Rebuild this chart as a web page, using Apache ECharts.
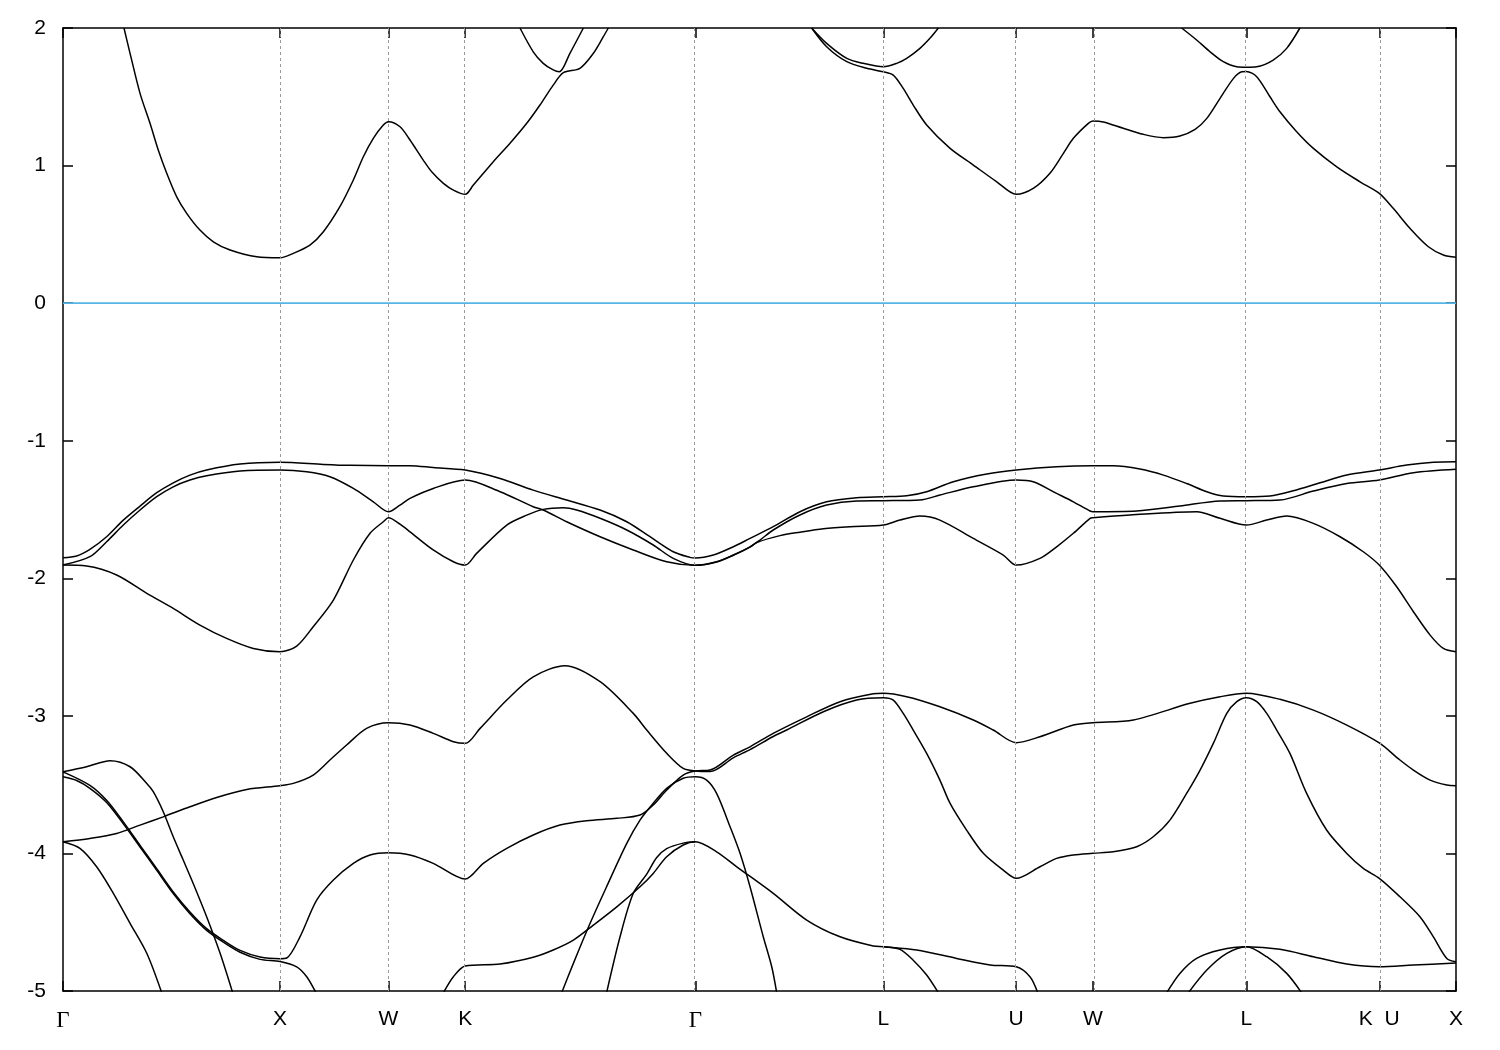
<!DOCTYPE html>
<html><head><meta charset="utf-8">
<script src="https://cdn.jsdelivr.net/npm/echarts@6/dist/echarts.min.js"></script>
<style>html,body{margin:0;padding:0;background:#fff}#c{width:1500px;height:1050px}</style>
</head><body><div id="c"></div>
<script>
// High-symmetry points along the k-path (units of 2π/a)
const symLabels = ['Γ','X','W','K','Γ','L','U','W','L','K  U','X'];
const symPos = [0, 1, 1.5, 1.8536, 2.9142, 3.7802, 4.3926, 4.7462, 5.4533, 6.0657, 6.4193];
const yTicks = [-5, -4, -3, -2, -1, 0, 1, 2];

// Conduction bands [k, E(eV)]
const cbLow1 = [[0.281,2.0],[0.309,1.816],[0.355,1.525],[0.401,1.307],[0.439,1.113],[0.478,0.944],[0.524,0.773],[0.570,0.653],[0.631,0.531],[0.693,0.446],[0.770,0.386],[0.893,0.337],[1.0,0.330],[1.061,0.362],[1.138,0.422],[1.200,0.519],[1.276,0.701],[1.338,0.895],[1.384,1.064],[1.430,1.198],[1.476,1.295],[1.5,1.319],[1.553,1.282],[1.599,1.186],[1.660,1.040],[1.699,0.955],[1.753,0.871],[1.799,0.822],[1.8536,0.791],[1.891,0.858],[1.983,1.028],[2.060,1.162],[2.137,1.307],[2.198,1.440],[2.259,1.585],[2.306,1.675],[2.382,1.707],[2.444,1.816],[2.490,1.937],[2.513,2.0]];
const cbUpK = [[2.106,2.0],[2.167,1.827],[2.213,1.743],[2.259,1.695],[2.287,1.682],[2.336,1.816],[2.398,2.0]];
const cbUpL1 = [[3.450,2.0],[3.519,1.888],[3.612,1.779],[3.688,1.743],[3.780,1.718],[3.842,1.743],[3.888,1.779],[3.949,1.852],[3.995,1.925],[4.034,2.0]];
const cbLow2 = [[3.450,2.0],[3.519,1.864],[3.612,1.755],[3.704,1.707],[3.780,1.682],[3.826,1.658],[3.872,1.561],[3.918,1.440],[3.980,1.295],[4.088,1.125],[4.195,1.004],[4.303,0.882],[4.3926,0.791],[4.471,0.834],[4.548,0.944],[4.610,1.089],[4.656,1.198],[4.725,1.307],[4.7462,1.324],[4.794,1.317],[4.886,1.271],[4.978,1.227],[5.071,1.203],[5.147,1.215],[5.217,1.263],[5.271,1.343],[5.332,1.489],[5.394,1.634],[5.432,1.682],[5.4533,1.684],[5.501,1.646],[5.562,1.500],[5.608,1.391],[5.685,1.246],[5.762,1.125],[5.870,0.991],[5.977,0.882],[6.0657,0.798],[6.130,0.689],[6.207,0.544],[6.292,0.410],[6.361,0.350],[6.4193,0.333]];
const cbUpL2 = [[5.155,2.0],[5.224,1.913],[5.286,1.827],[5.347,1.755],[5.409,1.718],[5.4533,1.715],[5.501,1.718],[5.577,1.767],[5.639,1.852],[5.700,2.0]];

// Valence bands [k, E(eV)]
const vb1 = [[0,-1.851],[0.063,-1.838],[0.124,-1.790],[0.201,-1.698],[0.278,-1.577],[0.355,-1.475],[0.432,-1.378],[0.508,-1.306],[0.585,-1.250],[0.662,-1.213],[0.816,-1.170],[1.0,-1.157],[1.200,-1.172],[1.323,-1.179],[1.5,-1.182],[1.599,-1.182],[1.706,-1.195],[1.8536,-1.213],[2.014,-1.274],[2.167,-1.359],[2.321,-1.431],[2.475,-1.504],[2.598,-1.589],[2.705,-1.698],[2.812,-1.807],[2.889,-1.848],[2.9142,-1.853],[2.997,-1.831],[3.089,-1.771],[3.166,-1.710],[3.273,-1.625],[3.396,-1.516],[3.519,-1.444],[3.657,-1.414],[3.780,-1.407],[3.888,-1.400],[3.980,-1.371],[4.103,-1.298],[4.257,-1.242],[4.3926,-1.213],[4.579,-1.189],[4.7462,-1.182],[4.840,-1.182],[4.963,-1.206],[5.071,-1.250],[5.178,-1.311],[5.271,-1.371],[5.347,-1.402],[5.4533,-1.407],[5.562,-1.402],[5.670,-1.364],[5.793,-1.306],[5.916,-1.250],[6.0657,-1.213],[6.192,-1.177],[6.315,-1.157],[6.4193,-1.153]];
const vb2 = [[0,-1.904],[0.124,-1.843],[0.201,-1.734],[0.278,-1.613],[0.355,-1.504],[0.432,-1.407],[0.508,-1.335],[0.585,-1.286],[0.662,-1.255],[0.816,-1.221],[1.0,-1.213],[1.123,-1.226],[1.230,-1.262],[1.338,-1.347],[1.430,-1.444],[1.5,-1.516],[1.553,-1.468],[1.599,-1.419],[1.706,-1.347],[1.8536,-1.286],[2.014,-1.371],[2.167,-1.480],[2.213,-1.504],[2.321,-1.589],[2.475,-1.698],[2.628,-1.794],[2.782,-1.880],[2.9142,-1.906],[3.012,-1.880],[3.089,-1.831],[3.166,-1.771],[3.212,-1.722],[3.273,-1.649],[3.396,-1.540],[3.519,-1.468],[3.657,-1.438],[3.780,-1.436],[3.949,-1.431],[4.041,-1.395],[4.195,-1.335],[4.3926,-1.286],[4.471,-1.298],[4.579,-1.383],[4.656,-1.444],[4.733,-1.511],[4.7462,-1.516],[4.948,-1.511],[5.147,-1.475],[5.332,-1.438],[5.4533,-1.436],[5.608,-1.431],[5.762,-1.366],[5.916,-1.311],[6.0657,-1.286],[6.223,-1.233],[6.4193,-1.208]];
const vb3 = [[0,-1.904],[0.109,-1.911],[0.247,-1.976],[0.386,-2.109],[0.508,-2.219],[0.631,-2.340],[0.754,-2.437],[0.877,-2.510],[1.0,-2.534],[1.077,-2.493],[1.153,-2.352],[1.246,-2.158],[1.338,-1.867],[1.415,-1.673],[1.476,-1.589],[1.5,-1.560],[1.553,-1.607],[1.599,-1.662],[1.706,-1.794],[1.799,-1.880],[1.8536,-1.904],[1.906,-1.819],[2.045,-1.613],[2.137,-1.541],[2.213,-1.499],[2.306,-1.487],[2.367,-1.504],[2.475,-1.564],[2.598,-1.649],[2.720,-1.758],[2.812,-1.855],[2.9142,-1.906],[3.012,-1.882],[3.089,-1.833],[3.166,-1.773],[3.197,-1.740],[3.304,-1.690],[3.396,-1.665],[3.504,-1.640],[3.627,-1.625],[3.780,-1.613],[3.857,-1.577],[3.949,-1.548],[4.041,-1.577],[4.195,-1.710],[4.333,-1.831],[4.3926,-1.904],[4.502,-1.855],[4.579,-1.771],[4.656,-1.673],[4.733,-1.564],[4.7462,-1.560],[4.917,-1.540],[5.224,-1.516],[5.332,-1.564],[5.4533,-1.613],[5.547,-1.577],[5.639,-1.548],[5.762,-1.601],[5.885,-1.698],[5.992,-1.807],[6.0657,-1.904],[6.146,-2.062],[6.223,-2.243],[6.300,-2.413],[6.361,-2.510],[6.4193,-2.534]];
const vb4 = [[0,-3.407],[0.109,-3.370],[0.217,-3.326],[0.309,-3.370],[0.386,-3.491],[0.416,-3.551],[0.462,-3.697],[0.508,-3.879],[0.554,-4.048],[0.600,-4.218],[0.662,-4.460],[0.724,-4.726],[0.782,-5.013]];
const vb5 = [[0,-3.407],[0.124,-3.505],[0.201,-3.614],[0.278,-3.771],[0.355,-3.941],[0.432,-4.111],[0.508,-4.280],[0.585,-4.426],[0.662,-4.547],[0.739,-4.632],[0.816,-4.705],[0.908,-4.753],[1.0,-4.765],[1.031,-4.760],[1.092,-4.606],[1.169,-4.339],[1.246,-4.193],[1.338,-4.072],[1.415,-4.011],[1.5,-3.995],[1.599,-4.011],[1.706,-4.072],[1.8536,-4.186],[1.937,-4.072],[2.045,-3.963],[2.167,-3.866],[2.290,-3.794],[2.413,-3.762],[2.552,-3.745],[2.659,-3.721],[2.720,-3.648],[2.782,-3.539],[2.858,-3.430],[2.9142,-3.401],[2.982,-3.394],[3.089,-3.285],[3.166,-3.225],[3.273,-3.127],[3.427,-3.007],[3.581,-2.897],[3.734,-2.840],[3.780,-2.836],[3.888,-2.861],[4.041,-2.934],[4.195,-3.030],[4.287,-3.103],[4.3926,-3.195],[4.502,-3.152],[4.656,-3.067],[4.7462,-3.050],[4.933,-3.030],[5.194,-2.909],[5.332,-2.861],[5.4533,-2.836],[5.608,-2.880],[5.762,-2.958],[5.916,-3.067],[6.0657,-3.197],[6.161,-3.321],[6.223,-3.394],[6.300,-3.467],[6.377,-3.503],[6.4193,-3.508]];
const vb6 = [[0,-3.443],[0.063,-3.470],[0.124,-3.527],[0.201,-3.630],[0.278,-3.785],[0.355,-3.953],[0.432,-4.123],[0.508,-4.292],[0.585,-4.438],[0.662,-4.559],[0.739,-4.645],[0.816,-4.718],[0.908,-4.770],[1.0,-4.785],[1.077,-4.824],[1.123,-4.896],[1.166,-5.013]];
const vb7 = [[0,-3.915],[0.124,-3.891],[0.247,-3.855],[0.355,-3.794],[0.462,-3.734],[0.585,-3.661],[0.708,-3.593],[0.847,-3.535],[1.0,-3.508],[1.061,-3.491],[1.153,-3.430],[1.230,-3.321],[1.307,-3.212],[1.399,-3.091],[1.5,-3.050],[1.599,-3.067],[1.706,-3.127],[1.799,-3.188],[1.8536,-3.200],[1.922,-3.091],[2.045,-2.885],[2.167,-2.716],[2.313,-2.636],[2.475,-2.752],[2.628,-2.982],[2.690,-3.103],[2.782,-3.272],[2.858,-3.382],[2.9142,-3.401],[2.982,-3.405],[3.089,-3.305],[3.166,-3.245],[3.273,-3.150],[3.335,-3.103],[3.504,-2.970],[3.657,-2.885],[3.780,-2.868],[3.826,-2.885],[3.872,-2.982],[3.918,-3.103],[3.980,-3.273],[4.041,-3.467],[4.088,-3.636],[4.164,-3.830],[4.241,-3.999],[4.333,-4.121],[4.3926,-4.181],[4.502,-4.097],[4.579,-4.036],[4.656,-4.011],[4.7462,-3.999],[4.840,-3.988],[4.948,-3.951],[5.024,-3.879],[5.101,-3.758],[5.178,-3.564],[5.240,-3.394],[5.301,-3.200],[5.363,-2.982],[5.409,-2.897],[5.4533,-2.868],[5.501,-2.897],[5.547,-2.982],[5.593,-3.103],[5.654,-3.273],[5.731,-3.564],[5.823,-3.830],[5.916,-4.000],[5.992,-4.109],[6.0657,-4.181],[6.161,-4.315],[6.253,-4.460],[6.315,-4.606],[6.377,-4.763],[6.4193,-4.787]];
const vb8 = [[0,-3.915],[0.078,-3.963],[0.155,-4.097],[0.232,-4.290],[0.309,-4.508],[0.386,-4.726],[0.455,-5.013]];
const vb9 = [[1.753,-5.013],[1.799,-4.896],[1.8536,-4.818],[2.014,-4.804],[2.167,-4.755],[2.259,-4.702],[2.352,-4.630],[2.444,-4.521],[2.552,-4.388],[2.659,-4.242],[2.720,-4.145],[2.782,-4.024],[2.858,-3.939],[2.9142,-3.915],[3.012,-3.988],[3.105,-4.097],[3.273,-4.290],[3.427,-4.484],[3.581,-4.606],[3.734,-4.673],[3.780,-4.678],[3.934,-4.702],[4.118,-4.763],[4.272,-4.811],[4.3926,-4.824],[4.456,-4.896],[4.492,-5.013]];
const vb10 = [[2.505,-5.013],[2.567,-4.606],[2.628,-4.290],[2.690,-4.150],[2.736,-4.030],[2.782,-3.965],[2.858,-3.925],[2.9142,-3.915]];
const vb10L = [[3.780,-4.678],[3.857,-4.697],[3.918,-4.776],[3.980,-4.884],[4.034,-5.013]];
const vb11 = [[2.298,-5.013],[2.352,-4.799],[2.429,-4.508],[2.505,-4.242],[2.598,-3.927],[2.659,-3.758],[2.720,-3.636],[2.782,-3.527],[2.858,-3.454],[2.9142,-3.443],[2.966,-3.467],[3.012,-3.564],[3.074,-3.806],[3.120,-3.999],[3.166,-4.242],[3.227,-4.606],[3.266,-4.824],[3.289,-5.013]];
const vb12 = [[5.086,-5.013],[5.147,-4.872],[5.224,-4.763],[5.332,-4.702],[5.4533,-4.678],[5.608,-4.697],[5.762,-4.751],[5.916,-4.804],[6.0657,-4.824],[6.223,-4.811],[6.4193,-4.797]];
const vb13 = [[5.186,-5.013],[5.271,-4.848],[5.363,-4.727],[5.4533,-4.678],[5.547,-4.751],[5.639,-4.872],[5.708,-5.013]];

const bands = [cbLow1, cbUpK, cbUpL1, cbLow2, cbUpL2, vb1, vb2, vb3, vb4, vb5, vb6, vb7, vb8, vb9, vb10, vb10L, vb11, vb12, vb13];
const fermi = 0;

const kMin = symPos[0], kMax = symPos[symPos.length - 1];
const FONT = 'Liberation Sans';
const chart = echarts.init(document.getElementById('c'), null, {renderer: 'canvas'});

function labelFor(v) {
  let idx = 0, best = Infinity;
  symPos.forEach((p, i) => { const d = Math.abs(p - v); if (d < best) { best = d; idx = i; } });
  const lab = symLabels[idx];
  return lab === 'Γ' ? '{g|Γ}' : lab;
}

const axisLineStyle = {show: true, onZero: false, lineStyle: {color: '#000', width: 1.5}};
const series = bands.map(d => ({
  type: 'line', data: d, showSymbol: false, smooth: 0.3, clip: true, silent: true, z: 3,
  lineStyle: {color: '#000', width: 1.5}, animation: false
}));
series.push({
  type: 'line', data: [[kMin, fermi], [kMax, fermi]], showSymbol: false, silent: true, z: 2,
  lineStyle: {color: '#56b4e9', width: 1.6}, animation: false,
  markLine: {
    silent: true, symbol: ['none', 'none'], label: {show: false}, animation: false,
    lineStyle: {color: '#9a9a9a', width: 1, type: [3, 3]},
    emphasis: {disabled: true},
    data: symPos.slice(1, -1).map(v => ({xAxis: v}))
  }
});

chart.setOption({
  animation: false,
  backgroundColor: '#fff',
  grid: {left: 63, right: 44, top: 28, bottom: 59, containLabel: false},
  xAxis: [{
    type: 'value', min: kMin, max: kMax, position: 'bottom',
    axisLine: axisLineStyle,
    axisTick: {show: true, inside: true, length: 10, customValues: symPos, lineStyle: {color: '#000', width: 1.5}},
    axisLabel: {show: true, customValues: symPos, margin: 18, color: '#000', fontFamily: FONT, fontSize: 21,
      showMinLabel: true, showMaxLabel: true, formatter: labelFor,
      rich: {g: {fontFamily: 'Liberation Serif', fontSize: 23, color: '#000'}}},
    splitLine: {show: false}
  }, {
    type: 'value', min: kMin, max: kMax, position: 'top',
    axisLine: axisLineStyle,
    axisTick: {show: true, inside: true, length: 10, customValues: symPos, lineStyle: {color: '#000', width: 1.5}},
    axisLabel: {show: false}, splitLine: {show: false}
  }],
  yAxis: [{
    type: 'value', min: yTicks[0], max: yTicks[yTicks.length - 1], interval: 1, position: 'left',
    axisLine: axisLineStyle,
    axisTick: {show: true, inside: true, length: 10, lineStyle: {color: '#000', width: 1.5}},
    axisLabel: {show: true, margin: 17, color: '#000', fontFamily: FONT, fontSize: 21},
    splitLine: {show: false}
  }, {
    type: 'value', min: yTicks[0], max: yTicks[yTicks.length - 1], interval: 1, position: 'right',
    axisLine: axisLineStyle,
    axisTick: {show: true, inside: true, length: 10, lineStyle: {color: '#000', width: 1.5}},
    axisLabel: {show: false}, splitLine: {show: false}
  }],
  series: series
});
</script></body></html>
